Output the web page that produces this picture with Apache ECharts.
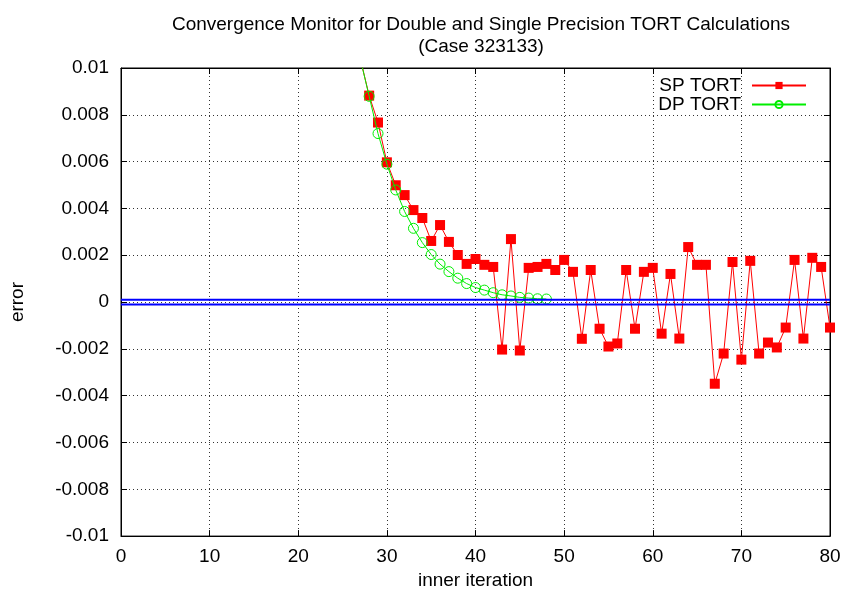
<!DOCTYPE html>
<html><head><meta charset="utf-8">
<script src="https://cdn.jsdelivr.net/npm/echarts@6/dist/echarts.min.js"></script>
<style>html,body{margin:0;padding:0;background:#fff}#c{width:844px;height:595px}</style>
</head><body><div id="c"></div>
<script>
const titleText = 'Convergence Monitor for Double and Single Precision TORT Calculations\n(Case 323133)';
const xTicks = [0,10,20,30,40,50,60,70,80];
const yTicks = [-0.01,-0.008,-0.006,-0.004,-0.002,0,0.002,0.004,0.006,0.008,0.01];
const spIter = [27,28,29,30,31,32,33,34,35,36,37,38,39,40,41,42,43,44,45,46,47,48,49,50,51,52,53,54,55,56,57,58,59,60,61,62,63,64,65,66,67,68,69,70,71,72,73,74,75,76,77,78,79,80];
const spErr = [0.0104,0.00882,0.00767,0.00597,0.00499,0.00457,0.00393,0.00359,0.00261,0.00329,0.00257,0.00201,0.00163,0.00184,0.00159,0.00150,-0.00203,0.00269,-0.00207,0.00146,0.00150,0.00163,0.00137,0.00180,0.00129,-0.00157,0.00137,-0.00114,-0.00190,-0.00177,0.00137,-0.00114,0.00129,0.00146,-0.00135,0.00120,-0.00156,0.00235,0.00159,0.00159,-0.00349,-0.00220,0.00171,-0.00246,0.00176,-0.00220,-0.00173,-0.00194,-0.00109,0.00180,-0.00156,0.00189,0.00150,-0.00109];
const dpIter = [27,28,29,30,31,32,33,34,35,36,37,38,39,40,41,42,43,44,45,46,47,48];
const dpErr = [0.0104,0.00879,0.00720,0.00589,0.00479,0.00387,0.00315,0.00254,0.00203,0.00162,0.00130,0.00102,0.00079,0.00062,0.00051,0.00040,0.00031,0.00026,0.00020,0.00017,0.00014,0.00013];
const bandHi = 0.0001, bandLo = -0.0001;

const font = 'Liberation Sans, Arial, sans-serif';
const chart = echarts.init(document.getElementById('c'), null, {renderer:'canvas'});
const zip = (a,b)=>a.map((v,i)=>[v,b[i]]);
const fmtY = v => { const r = Math.round(v*1000)/1000; return r===0?'0':String(r); };
const baseAxis = {
  axisLine:{show:true,onZero:false,lineStyle:{color:'#000',width:1}},
  axisTick:{show:true,inside:true,length:6,lineStyle:{color:'#000'}},
  splitLine:{show:false}
};
chart.setOption({
  animation:false,
  backgroundColor:'#fff',
  title:{text:titleText,left:476,top:9,textAlign:'center',
    textStyle:{fontFamily:font,fontSize:19,fontWeight:'normal',color:'#000',lineHeight:22}},
  legend:{right:37,top:76,padding:0,orient:'vertical',align:'right',itemWidth:54,itemHeight:9,itemGap:0,
    textStyle:{fontFamily:font,fontSize:19,lineHeight:18,height:18,color:'#000',padding:[0,6,0,0]},
    data:[{name:'SP TORT'},{name:'DP TORT'}]},
  grid:{left:120,right:14,top:68,bottom:57,show:true,borderColor:'#000',borderWidth:1},
  xAxis:[
    Object.assign({},baseAxis,{type:'value',min:0,max:80,interval:10,position:'bottom',
      name:'inner iteration',nameLocation:'middle',nameGap:32,
      nameTextStyle:{fontFamily:font,fontSize:19,color:'#000'},
      axisLabel:{show:true,margin:11,fontFamily:font,fontSize:19,color:'#000'},
      splitLine:{show:true,lineStyle:{type:[1,3],color:'#333',width:1}}}),
    Object.assign({},baseAxis,{type:'value',min:0,max:80,interval:10,position:'top',axisLabel:{show:false}})
  ],
  yAxis:[
    Object.assign({},baseAxis,{type:'value',min:-0.01,max:0.01,interval:0.002,position:'left',
      name:'error',nameLocation:'middle',nameGap:94,nameRotate:90,
      nameTextStyle:{fontFamily:font,fontSize:19,color:'#000'},
      axisLabel:{show:true,margin:12,fontFamily:font,fontSize:19,color:'#000',formatter:fmtY},
      splitLine:{show:true,lineStyle:{type:[1,3],color:'#333',width:1}}}),
    Object.assign({},baseAxis,{type:'value',min:-0.01,max:0.01,interval:0.002,position:'right',axisLabel:{show:false}})
  ],
  series:[
    {name:'SP TORT',type:'line',clip:true,data:zip(spIter,spErr),symbol:'rect',symbolSize:10,
      lineStyle:{color:'#ff0000',width:1},itemStyle:{color:'#ff0000',borderWidth:0},color:'#ff0000',z:2},
    {name:'DP TORT',type:'line',clip:true,data:zip(dpIter,dpErr),symbol:'circle',symbolSize:10,
      lineStyle:{color:'#00ee00',width:1},itemStyle:{color:'none',borderColor:'#00ee00',borderWidth:1},color:'#00ee00',z:3},
    {name:'band+',type:'line',data:[[0,bandHi],[80,bandHi]],symbol:'none',lineStyle:{color:'#0000ff',width:2},z:4,silent:true},
    {name:'band-',type:'line',data:[[0,bandLo],[80,bandLo]],symbol:'none',lineStyle:{color:'#0000ff',width:2},z:4,silent:true}
  ]
});
</script></body></html>
